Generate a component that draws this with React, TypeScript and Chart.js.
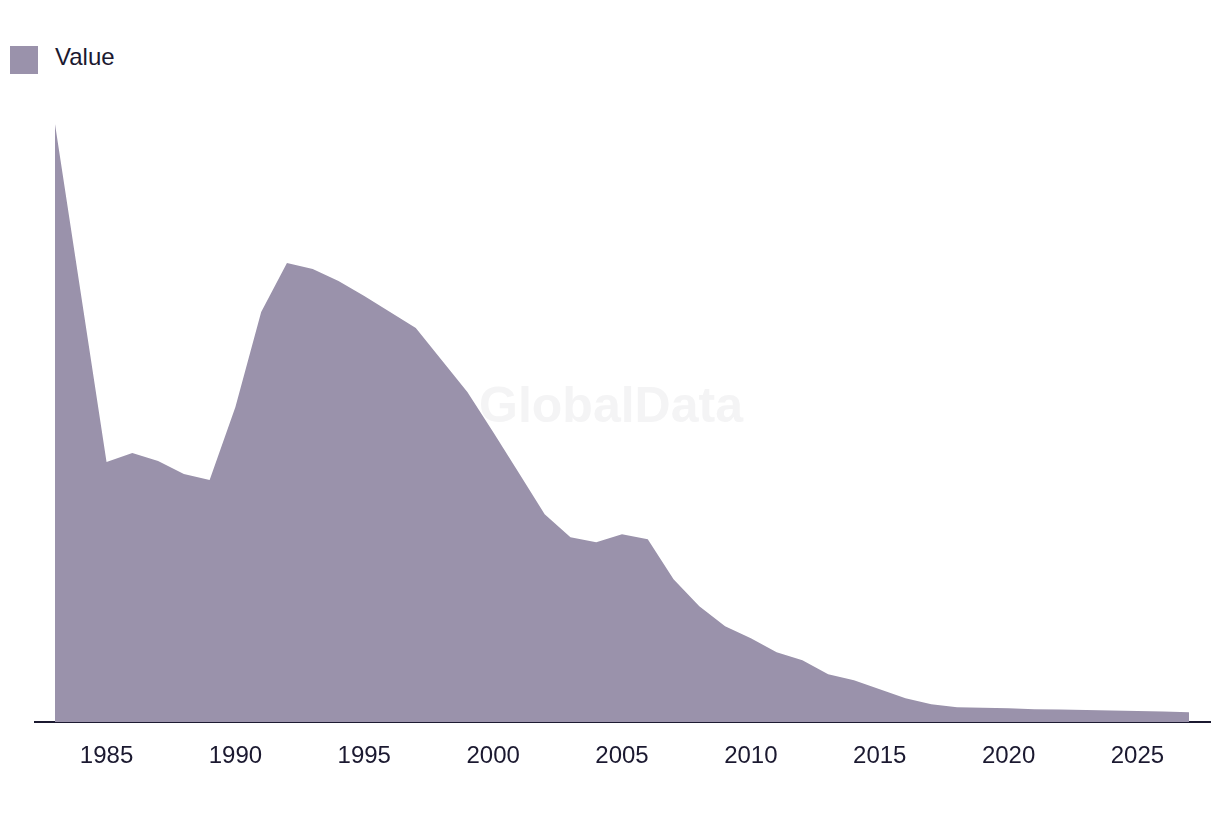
import React, { useEffect, useRef } from "react";
import { Chart, registerables } from "chart.js";

Chart.register(...registerables);

const years: number[] = [
  1983, 1984, 1985, 1986, 1987, 1988, 1989, 1990, 1991, 1992, 1993, 1994, 1995,
  1996, 1997, 1998, 1999, 2000, 2001, 2002, 2003, 2004, 2005, 2006, 2007, 2008,
  2009, 2010, 2011, 2012, 2013, 2014, 2015, 2016, 2017, 2018, 2019, 2020, 2021,
  2022, 2023, 2024, 2025, 2026, 2027,
];

const values: number[] = [
  59.8, 42.9, 26.0, 26.9, 26.1, 24.8, 24.2, 31.5, 41.0, 45.9, 45.3, 44.1, 42.6,
  41.0, 39.4, 36.2, 33.0, 29.0, 24.9, 20.8, 18.5, 18.0, 18.8, 18.3, 14.3, 11.6,
  9.6, 8.4, 7.0, 6.2, 4.8, 4.2, 3.3, 2.4, 1.8, 1.5, 1.45, 1.4, 1.3, 1.27, 1.22,
  1.18, 1.12, 1.07, 1.0,
];

const seriesLabel = "Value";
const watermarkText = "GlobalData";

const FILL = "#9a92ab";
const INK = "#1b1930";
const FONT = "'Liberation Sans', Arial, sans-serif";

const watermarkPlugin = {
  id: "watermark",
  beforeDatasetsDraw(chart: any) {
    const { ctx } = chart;
    ctx.save();
    ctx.font = `bold 50px ${FONT}`;
    ctx.fillStyle = "#f4f4f5";
    ctx.textAlign = "center";
    ctx.textBaseline = "middle";
    ctx.fillText(watermarkText, 611, 408);
    ctx.restore();
  },
};

export default function App() {
  const canvasRef = useRef<HTMLCanvasElement | null>(null);

  useEffect(() => {
    document.body.style.margin = "0";
    const canvas = canvasRef.current;
    if (!canvas) return;
    const chart = new Chart(canvas, {
      type: "line",
      data: {
        datasets: [
          {
            label: seriesLabel,
            data: years.map((y, i) => ({ x: y, y: values[i] })),
            backgroundColor: FILL,
            borderColor: FILL,
            borderWidth: 0,
            pointRadius: 0,
            fill: "origin",
            tension: 0,
          },
        ],
      },
      options: {
        animation: false,
        responsive: false,
        maintainAspectRatio: false,
        layout: { padding: { top: 100, left: 35, right: 10, bottom: 25 } },
        plugins: {
          legend: { display: false },
          tooltip: { enabled: false },
        },
        scales: {
          x: {
            type: "linear",
            min: 1982.224,
            max: 2027.815,
            grid: { display: false, drawTicks: false },
            border: { display: true, color: INK, width: 2 },
            ticks: {
              stepSize: 5,
              includeBounds: false,
              padding: 20,
              color: INK,
              font: { family: FONT, size: 24 },
              maxRotation: 0,
              callback: (v: any) => String(v),
            },
          },
          y: {
            display: false,
            min: 0,
            max: 62.2,
          },
        },
      },
      plugins: [watermarkPlugin],
    });
    return () => chart.destroy();
  }, []);

  return (
    <div style={{ position: "relative", width: 1220, height: 816, background: "#fff" }}>
      <div
        style={{
          position: "absolute",
          left: 10,
          top: 46,
          width: 28,
          height: 28,
          background: FILL,
        }}
      />
      <div
        style={{
          position: "absolute",
          left: 55,
          top: 43,
          height: 28,
          lineHeight: "28px",
          fontFamily: FONT,
          fontSize: 24,
          color: INK,
        }}
      >
        {seriesLabel}
      </div>
      <canvas
        ref={canvasRef}
        width={1220}
        height={816}
        style={{ position: "absolute", left: 0, top: 0, width: 1220, height: 816 }}
      />
    </div>
  );
}
